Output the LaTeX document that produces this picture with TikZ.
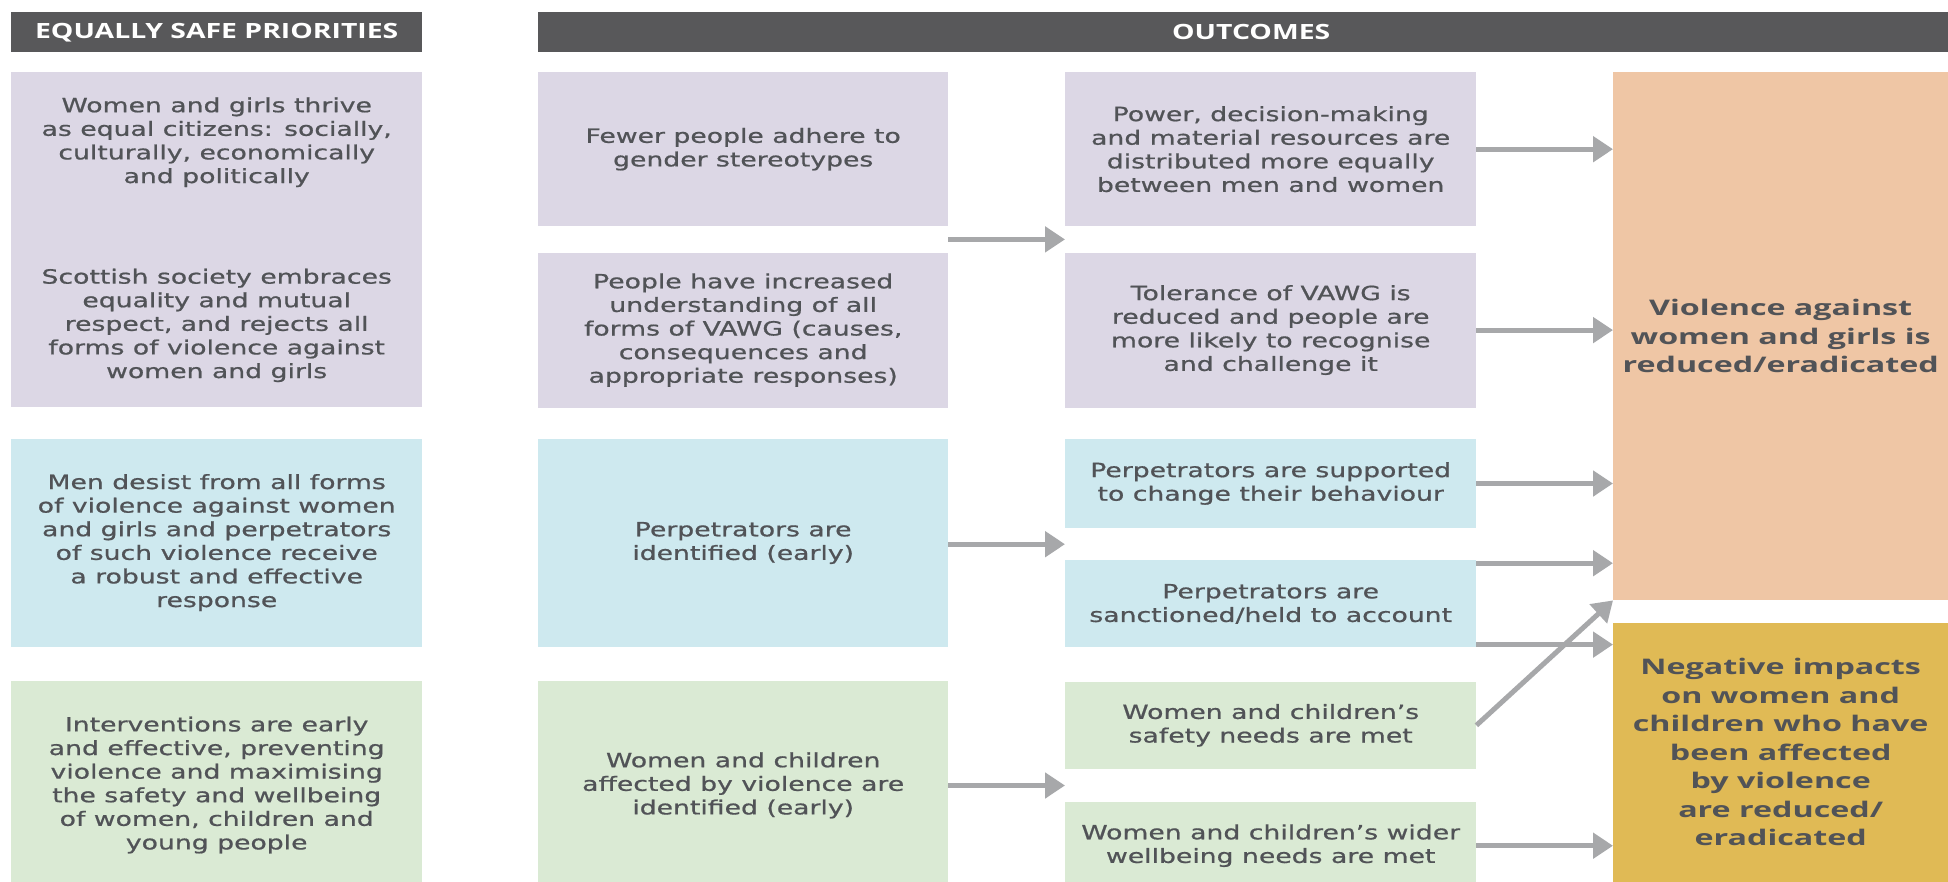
\documentclass[tikz,border=0pt]{standalone}
\usepackage{fontspec}
\usepackage{xcolor}
\usetikzlibrary{positioning, calc, arrows.meta}

\newfontfamily\bodyfam[FakeStretch=1.36, FakeBold=0.8]{DejaVu Sans}
\newfontfamily\headfam[FakeStretch=1.35]{Open Sans}
\newfontfamily\goalfam[FakeStretch=1.5]{Open Sans}

\definecolor{headgrey}{HTML}{58585A}
\definecolor{txtgrey}{HTML}{515357}
\definecolor{prioPurple}{HTML}{DCD7E5}
\definecolor{prioBlue}{HTML}{CEE9EF}
\definecolor{prioGreen}{HTML}{DAEAD4}
\definecolor{goalOrange}{HTML}{EFC6A5}
\definecolor{goalYellow}{HTML}{E0BA55}
\definecolor{arrowgrey}{HTML}{A7A8AA}

\begin{document}
\begin{tikzpicture}[x=1pt, y=1pt,
			header/.style={rectangle, fill=headgrey, text=white, inner sep=0pt,
					minimum height=40pt, font=\headfam\bfseries\fontsize{21}{25}\selectfont},
			card/.style={rectangle, inner sep=0pt, minimum width=411pt, align=center,
					text=txtgrey, font=\bodyfam\fontsize{19.6}{23.6}\selectfont},
			purplecard/.style={card, fill=prioPurple},
			bluecard/.style={card, fill=prioBlue},
			greencard/.style={card, fill=prioGreen},
			goal/.style={rectangle, inner sep=0pt, minimum width=335pt, align=center,
					text=txtgrey, font=\goalfam\bfseries\fontsize{21.5}{28.5}\selectfont},
			flow/.style={draw=arrowgrey, line width=5pt, -{Triangle[length=20pt, width=25pt]}}]

		\useasboundingbox (0,0) rectangle (1948,-881);
		\fill[white] (0,0) rectangle (1948,-881);

		% Headers
		\node [header, minimum width=411pt, anchor=north west] (hdprio) at (11,-12) {EQUALLY SAFE PRIORITIES};
		\node [header, minimum width=1426pt, anchor=north west] (hdout) at (538,-12) {OUTCOMES};

		% Priorities
		\node [purplecard, minimum height=335pt, anchor=north west] (prio1) at (11,-72)
			{Women and girls thrive\\as equal citizens: socially,\\culturally, economically\\and politically\\[77pt]
			Scottish society embraces\\equality and mutual\\respect, and rejects all\\forms of violence against\\women and girls};
		\node [bluecard, minimum height=208pt, below=31pt of prio1] (prio2)
			{Men desist from all forms\\of violence against women\\and girls and perpetrators\\of such violence receive\\a robust and effective\\response};
		\node [greencard, minimum height=208pt, below=34pt of prio2] (prio3)
			{Interventions are early\\and effective, preventing\\violence and maximising\\the safety and wellbeing\\of women, children and\\young people};

		% Short-term outcomes
		\node [purplecard, minimum width=410pt, minimum height=154pt, anchor=north west] (fewer) at (538,-72)
			{Fewer people adhere to\\gender stereotypes};
		\node [purplecard, minimum width=410pt, minimum height=155pt, below=26pt of fewer] (understand)
			{People have increased\\understanding of all\\forms of VAWG (causes,\\consequences and\\appropriate responses)};
		\node [bluecard, minimum width=410pt, minimum height=208pt, below=31pt of understand] (identified)
			{Perpetrators are\\identified (early)};
		\node [greencard, minimum width=410pt, minimum height=208pt, below=34pt of identified] (affected)
			{Women and children\\affected by violence are\\identified (early)};

		% Intermediate outcomes
		\node [purplecard, minimum height=154pt, anchor=north west] (power) at (1065,-72)
			{Power, decision-making\\and material resources are\\distributed more equally\\between men and women};
		\node [purplecard, minimum height=155pt, below=26pt of power] (tolerance)
			{Tolerance of VAWG is\\reduced and people are\\more likely to recognise\\and challenge it};
		\node [bluecard, minimum height=89pt, below=31pt of tolerance] (supported)
			{Perpetrators are supported\\to change their behaviour};
		\node [bluecard, minimum height=87pt, below=32pt of supported] (sanctioned)
			{Perpetrators are\\sanctioned/held to account};
		\node [greencard, minimum height=87pt, below=34pt of sanctioned] (safety)
			{Women and children’s\\safety needs are met};
		\node [greencard, minimum height=87pt, below=33pt of safety] (wider)
			{Women and children’s wider\\wellbeing needs are met};

		% Long-term outcomes
		\node [goal, fill=goalOrange, minimum height=528pt, anchor=north west] (vawg) at (1613,-72)
			{Violence against\\women and girls is\\reduced/eradicated};
		\node [goal, fill=goalYellow, minimum height=259pt, below=22pt of vawg] (impacts)
			{Negative impacts\\on women and\\children who have\\been affected\\by violence\\are reduced/\\eradicated};

		% Gaps between paired boxes
		\coordinate (purplegap) at ($(power.south west)!0.5!(tolerance.north west)$);
		\coordinate (bluegap) at ($(supported.south west)!0.5!(sanctioned.north west)$);
		\coordinate (greengap) at ($(safety.south west)!0.5!(wider.north west)$);
		\coordinate [yshift=-3pt] (sanctop) at (sanctioned.north east);
		\coordinate [yshift=3pt] (sancbot) at (sanctioned.south east);

		% Draw connections
		\draw [flow] (understand.east |- purplegap) -- (purplegap);
		\draw [flow] (identified.east |- bluegap) -- (bluegap);
		\draw [flow] (affected.east |- greengap) -- (greengap);
		\draw [flow] (power.east) -- (power.east -| vawg.west);
		\draw [flow] (tolerance.east) -- (tolerance.east -| vawg.west);
		\draw [flow] (supported.east) -- (supported.east -| vawg.west);
		\draw [flow] (sanctop) -- (sanctop -| vawg.west);
		\draw [flow] (sancbot) -- (sancbot -| impacts.west);
		\draw [flow] (safety.east) -- (vawg.south west);
		\draw [flow] (wider.east) -- (wider.east -| impacts.west);

	\end{tikzpicture}
\end{document}
